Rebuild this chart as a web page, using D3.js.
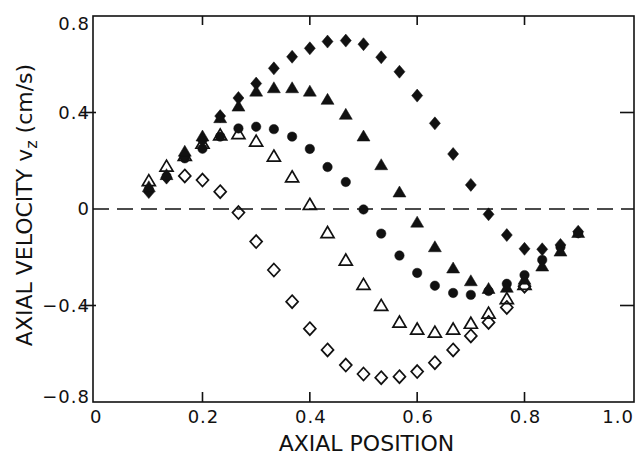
<!DOCTYPE html>
<html>
<head>
<meta charset="utf-8">
<script src="https://cdn.jsdelivr.net/npm/d3@7"></script>
<style>
  body { margin: 0; background: white; }
  svg { display: block; }
</style>
</head>
<body>
<svg></svg>
<script>
const width = 638;
const height = 456;
const margin = { top: 16, right: 4, bottom: 54, left: 93 };

// axial positions of the measurement points
const positions = [0.1, 0.133, 0.167, 0.2, 0.233, 0.267, 0.3, 0.333, 0.367, 0.4,
  0.433, 0.467, 0.5, 0.533, 0.567, 0.6, 0.633, 0.667, 0.7, 0.733, 0.767, 0.8,
  0.833, 0.867, 0.9];

// axial velocity (cm/s), one array per symbol
const filledDiamond = [0.07, 0.13, 0.22, 0.285, 0.385, 0.46, 0.52, 0.583, 0.631, 0.666,
  0.694, 0.698, 0.683, 0.629, 0.569, 0.47, 0.355, 0.228, 0.10, -0.022, -0.108, -0.165,
  -0.167, -0.149, -0.094];
const filledTriangle = [0.09, 0.14, 0.237, 0.30, 0.376, 0.424, 0.486, 0.50, 0.50, 0.486,
  0.452, 0.39, 0.30, 0.181, 0.068, -0.057, -0.159, -0.247, -0.30, -0.332, -0.327, -0.294,
  -0.239, -0.177, -0.10];
const filledCircle = [0.08, 0.135, 0.21, 0.25, 0.30, 0.334, 0.341, 0.331, 0.30, 0.249,
  0.174, 0.112, -0.002, -0.102, -0.193, -0.265, -0.318, -0.348, -0.356, -0.34, -0.31, -0.274,
  -0.211, -0.158, -0.10];
const openTriangle = [0.115, 0.175, 0.22, 0.27, 0.305, 0.31, 0.279, 0.217, 0.131, 0.017,
  -0.10, -0.214, -0.315, -0.402, -0.471, -0.50, -0.513, -0.50, -0.476, -0.434, -0.374, -0.315,
  null, null, null];
const openDiamond = [null, null, 0.137, 0.12, 0.072, -0.015, -0.135, -0.253, -0.384, -0.496,
  -0.584, -0.647, -0.684, -0.699, -0.695, -0.674, -0.637, -0.584, -0.526, -0.47, -0.408, -0.32,
  null, null, null];

const xTicks = [0, 0.2, 0.4, 0.6, 0.8, 1.0];
const yTicks = [-0.8, -0.4, 0, 0.4, 0.8];

const font = '"DejaVu Sans", sans-serif';

const svg = d3.select("svg")
  .attr("width", width)
  .attr("height", height)
  .style("font-family", font);

const x = d3.scaleLinear()
  .domain([-0.004, 1.004])
  .range([margin.left, width - margin.right]);

const y = d3.scaleLinear()
  .domain([-0.8, 0.8])
  .range([height - margin.bottom, margin.top]);

const x0 = x.range()[0], x1 = x.range()[1];
const y0 = y.range()[0], y1 = y.range()[1];

// zero line
svg.append("line")
  .attr("x1", x0).attr("x2", x1)
  .attr("y1", y(0)).attr("y2", y(0))
  .attr("stroke", "#111")
  .attr("stroke-width", 1.6)
  .attr("stroke-dasharray", "16,8");

// frame
svg.append("rect")
  .attr("x", x0).attr("y", y1)
  .attr("width", x1 - x0).attr("height", y0 - y1)
  .attr("fill", "none")
  .attr("stroke", "#111")
  .attr("stroke-width", 1.6);

// ticks
const inner = [0.2, 0.4, 0.6, 0.8];
svg.selectAll("line.xb").data(inner).enter().append("line")
  .attr("x1", d => x(d)).attr("x2", d => x(d))
  .attr("y1", y0).attr("y2", y0 - 10)
  .attr("stroke", "#111").attr("stroke-width", 1.6);
svg.selectAll("line.xt").data(inner).enter().append("line")
  .attr("x1", d => x(d)).attr("x2", d => x(d))
  .attr("y1", y1).attr("y2", y1 + 9)
  .attr("stroke", "#111").attr("stroke-width", 1.6);
svg.selectAll("line.yl").data([0.4, -0.4]).enter().append("line")
  .attr("x1", x0 - 12).attr("x2", x0 + 3)
  .attr("y1", d => y(d)).attr("y2", d => y(d))
  .attr("stroke", "#111").attr("stroke-width", 1.6);
svg.selectAll("line.yr").data([0.4, -0.4]).enter().append("line")
  .attr("x1", x1 - 14).attr("x2", x1)
  .attr("y1", d => y(d)).attr("y2", d => y(d))
  .attr("stroke", "#111").attr("stroke-width", 1.6);

// tick labels
const fmt = d => d === 0 ? "0" : (d < 0 ? "\u2212" : "") + Math.abs(d).toFixed(1);

svg.selectAll("text.xl").data(xTicks).enter().append("text")
  .attr("x", d => d === 1 ? x1 : x(d) + 1)
  .attr("y", y0 + 21)
  .attr("text-anchor", d => d === 1 ? "end" : "middle")
  .attr("font-size", 18)
  .attr("letter-spacing", 1)
  .attr("fill", "#111")
  .text(fmt);

svg.selectAll("text.yl").data(yTicks).enter().append("text")
  .attr("x", x0 - 3)
  .attr("y", d => Math.min(Math.max(y(d), y1 + 8), y0 - 5))
  .attr("dy", "0.36em")
  .attr("text-anchor", "end")
  .attr("font-size", 18)
  .attr("letter-spacing", 1)
  .attr("fill", "#111")
  .text(fmt);

// axis titles
svg.append("text")
  .attr("x", (x0 + x1) / 2 + 3)
  .attr("y", 451)
  .attr("text-anchor", "middle")
  .attr("font-size", 22)
  .attr("fill", "#111")
  .text("AXIAL POSITION");

const yTitle = svg.append("text")
  .attr("transform", `translate(32,205) rotate(-90)`)
  .attr("text-anchor", "middle")
  .attr("font-size", 22)
  .attr("fill", "#111");
yTitle.append("tspan").text("AXIAL VELOCITY  v");
yTitle.append("tspan").attr("font-size", 16).attr("dy", 5).text("z");
yTitle.append("tspan").attr("dy", -5).text(" (cm/s)");

// marker shapes
const shapes = {
  diamond: (w, h) => `M0,${-h / 2}L${w / 2},0L0,${h / 2}L${-w / 2},0Z`,
  triangle: (w, h) => `M0,${-h * 0.6}L${w / 2},${h * 0.4}L${-w / 2},${h * 0.4}Z`
};

const series = [
  { values: openDiamond, path: shapes.diamond(12, 13), filled: false },
  { values: openTriangle, path: shapes.triangle(13, 11), filled: false },
  { values: filledCircle, path: d3.symbol(d3.symbolCircle, 70)(), filled: true },
  { values: filledDiamond, path: shapes.diamond(11, 13), filled: true },
  { values: filledTriangle, path: shapes.triangle(13, 11), filled: true }
];

series.forEach(s => {
  const pts = positions.map((p, i) => ({ p, v: s.values[i] })).filter(d => d.v !== null);
  svg.append("g").selectAll("path")
    .data(pts)
    .enter()
    .append("path")
    .attr("transform", d => `translate(${x(d.p)},${y(d.v)})`)
    .attr("d", s.path)
    .attr("fill", s.filled ? "#111" : "none")
    .attr("stroke", "#111")
    .attr("stroke-width", s.filled ? 0.5 : 1.7)
    .attr("stroke-linejoin", "miter");
});
</script>
</body>
</html>
